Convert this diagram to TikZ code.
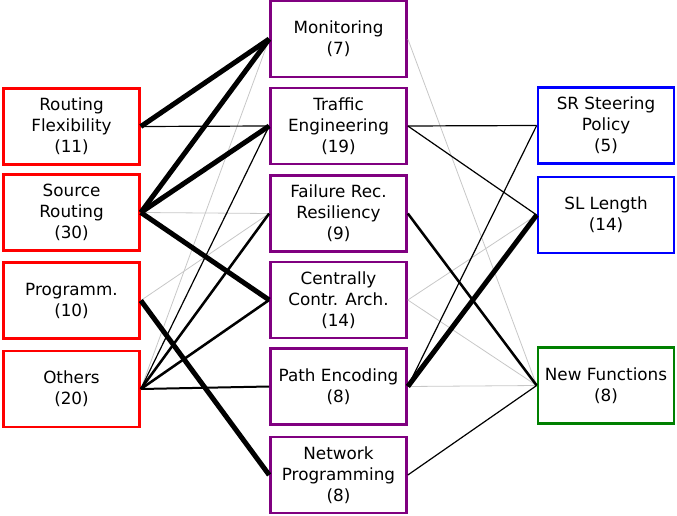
\documentclass[tikz,border=0pt]{standalone}
\usepackage{fontspec}
\setmainfont{DejaVu Sans}
\definecolor{boxred}{rgb}{1,0,0}
\definecolor{boxpurple}{rgb}{0.5,0,0.5}
\definecolor{boxblue}{rgb}{0,0,1}
\definecolor{boxgreen}{rgb}{0,0.5,0}
\begin{document}
\begin{tikzpicture}[x=0.75pt,y=0.75pt,yscale=-1,xscale=1,
    topic/.style={draw=#1,line width=2pt,fill=white,minimum width=102pt,minimum height=57pt,
                  align=center,inner sep=1pt,font=\fontsize{12.6pt}{15.75pt}\selectfont},
    heavy/.style={line width=3.75pt},
    strong/.style={line width=1.9pt},
    medium/.style={line width=1.5pt},
    light/.style={line width=0.9pt},
    faint/.style={line width=0.6pt,color=black!22}]
\useasboundingbox (0,0) rectangle (677,516);

% Text Node
\draw (71.5,126.5) node [topic=boxred] (flex) {Routing\\Flexibility\\(11)};
% Text Node
\draw (71.5,212.5) node [topic=boxred] (srcr) {Source\\Routing\\(30)};
% Text Node
\draw (71.5,300.5) node [topic=boxred] (progm) {Programm.\\(10)};
% Text Node
\draw (71.5,389) node [topic=boxred] (other) {Others\\(20)};

% Text Node
\draw (338.5,39) node [topic=boxpurple] (mon) {Monitoring\\(7)};
% Text Node
\draw (338.5,126) node [topic=boxpurple] (te) {Traffic\\Engineering\\(19)};
% Text Node
\draw (338.5,213.5) node [topic=boxpurple] (frr) {Failure Rec.\\Resiliency\\(9)};
% Text Node
\draw (338.5,300) node [topic=boxpurple] (cca) {Centrally\\Contr. Arch.\\(14)};
% Text Node
\draw (338.5,386.5) node [topic=boxpurple] (pe) {Path Encoding\\(8)};
% Text Node
\draw (338.5,475) node [topic=boxpurple] (np) {Network\\Programming\\(8)};

% Text Node
\draw (606,125.5) node [topic=boxblue] (steer) {SR Steering\\Policy\\(5)};
% Text Node
\draw (606,215) node [topic=boxblue] (sll) {SL Length\\(14)};
% Text Node
\draw (606,385.5) node [topic=boxgreen] (newf) {New Functions\\(8)};

%Straight Lines (left to middle)
\draw [faint]  (srcr.east) -- (frr.west) ;
\draw [faint]  (progm.east) -- (frr.west) ;
\draw [faint]  (other.east) -- (mon.west) ;
\draw [light]  (flex.east) -- (te.west) ;
\draw [light]  (other.east) -- (te.west) ;
\draw [strong] (other.east) -- (frr.west) ;
\draw [strong] (other.east) -- (cca.west) ;
\draw [medium] (other.east) -- (pe.west) ;
\draw [heavy]  (flex.east) -- (mon.west) ;
\draw [heavy]  (srcr.east) -- (mon.west) ;
\draw [heavy]  (srcr.east) -- (te.west) ;
\draw [heavy]  (srcr.east) -- (cca.west) ;
\draw [heavy]  (progm.east) -- (np.west) ;

%Straight Lines (middle to right)
\draw [faint]  (mon.east) -- (newf.west) ;
\draw [faint]  (cca.east) -- (sll.west) ;
\draw [faint]  (cca.east) -- (newf.west) ;
\draw [faint]  (pe.east) -- (newf.west) ;
\draw [light]  (te.east) -- (steer.west) ;
\draw [light]  (te.east) -- (sll.west) ;
\draw [light]  (pe.east) -- (steer.west) ;
\draw [light]  (np.east) -- (newf.west) ;
\draw [strong] (frr.east) -- (newf.west) ;
\draw [heavy]  (pe.east) -- (sll.west) ;

\end{tikzpicture}
\end{document}
